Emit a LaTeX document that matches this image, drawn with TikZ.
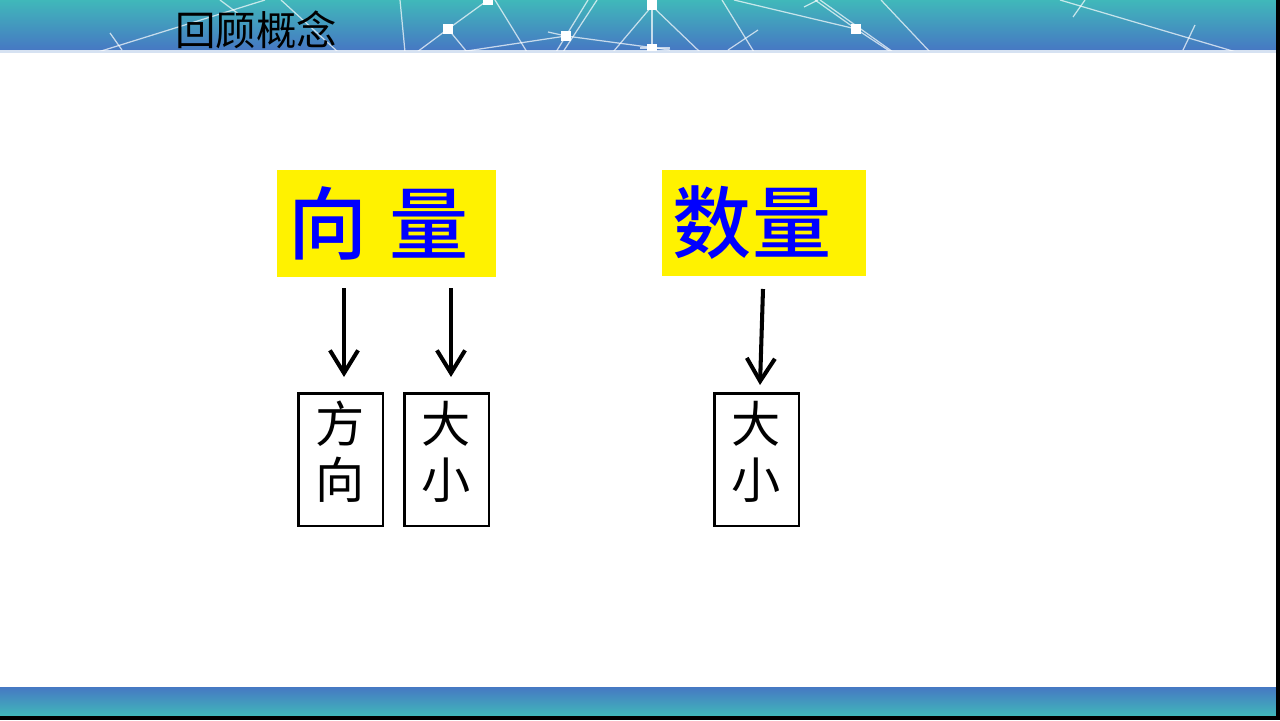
\documentclass[tikz,border=0pt]{standalone}
\usepackage{fontspec}
\newfontfamily\cjk{Noto Sans CJK SC}
\newfontfamily\cjkbold{Noto Sans CJK SC Medium}
\usetikzlibrary{arrows.meta}
\definecolor{hdrtop}{RGB}{64,184,186}
\definecolor{hdrbot}{RGB}{70,120,195}
\definecolor{hdrline}{RGB}{214,226,242}
\definecolor{vblue}{RGB}{0,0,255}
\tikzset{
  net/.style={white, opacity=0.7, line width=0.7pt},
  netnode/.style={fill=white, draw=none, minimum size=0.2cm, inner sep=0pt, rectangle},
  yellowbox/.style={fill=yellow, draw=none, inner sep=0pt},
  bigtxt/.style={text=vblue, inner sep=0pt, font=\cjkbold\fontsize{45pt}{50pt}\selectfont},
  smallbox/.style={draw=black, line width=1.7pt, minimum width=1.7cm, minimum height=2.66cm,
    inner sep=0pt, align=center, text depth=11pt, font=\cjk\fontsize{28pt}{32pt}\selectfont},
  arr/.style={draw=black, line width=2.3pt, -{Straight Barb[length=13pt,width=16pt]}}
}
\begin{document}
\begin{tikzpicture}[x=0.02cm,y=-0.02cm]
\useasboundingbox (0,0) rectangle (1280,720);
\fill[white] (0,0) rectangle (1280,720);
% header band
\shade[top color=hdrtop, bottom color=hdrbot] (0,0) rectangle (1276,50);
\fill[hdrline] (0,50) rectangle (1276,53);
\begin{scope}
\clip (0,0) rectangle (1276,50);
\draw[net] (98,52) -- (265,0);
\draw[net] (110,33) -- (122,50);
\draw[net] (220,0) -- (240,15);
\draw[net] (281,0) -- (338,52);
\draw[net] (400,0) -- (405,52);
\draw[net] (417,52) -- (448,29) -- (488,0);
\draw[net] (448,29) -- (467,52);
\draw[net] (495,0) -- (527,52);
\draw[net] (460,52) -- (566,36) -- (670,50);
\draw[net] (548,32) -- (566,36);
\draw[net] (588,0) -- (556,52);
\draw[net] (597,0) -- (563,52);
\draw[net] (613,52) -- (652,6) -- (700,52);
\draw[net] (652,6) -- (652,49);
\draw[net] (640,48) -- (670,48);
\draw[net] (722,0) -- (754,52);
\draw[net] (728,50) -- (758,30);
\draw[net] (734,0) -- (856,29) -- (891,52);
\draw[net] (804,7) -- (818,0);
\draw[net] (815,0) -- (856,29);
\draw[net] (820,0) -- (893,52);
\draw[net] (881,0) -- (930,52);
\draw[net] (1060,0) -- (1236,52);
\draw[net] (1073,17) -- (1085,0);
\draw[net] (1183,50) -- (1195,25);
\node[netnode] (n1) at (448,29) {};
\node[netnode] (n2) at (488,0) {};
\node[netnode] (n3) at (566,36) {};
\node[netnode] (n4) at (652,5) {};
\node[netnode] (n5) at (652,49) {};
\node[netnode] (n6) at (856,29) {};
\end{scope}
\node[anchor=center, inner sep=0pt, font=\cjk\fontsize{23pt}{26pt}\selectfont] (title) at (256,30) {回顾概念};
% footer band
\shade[top color=hdrbot, bottom color=hdrtop] (0,687) rectangle (1276,716);
\fill[black] (1276,0) rectangle (1280,720);
\fill[black] (0,716) rectangle (1280,720);
% yellow boxes
\node[yellowbox, minimum width=4.38cm, minimum height=2.14cm] (vec) at (386.5,223.5) {};
\node[bigtxt] (vectxt) at (378.5,223) {向\hspace{13pt}量};
\node[yellowbox, minimum width=4.08cm, minimum height=2.12cm] (sca) at (764,223) {};
\node[bigtxt] (scatxt) at (752,223) {数量};
% small boxes
\node[smallbox] (dir) at (340.5,459.5) {方\\向};
\node[smallbox] (mag) at (446.5,459.5) {大\\小};
\node[smallbox] (smag) at (756.5,459.5) {大\\小};
% arrows
\coordinate (a1s) at (344,288);
\coordinate (a1e) at (344,377);
\coordinate (a2s) at (451,288);
\coordinate (a2e) at (451,377);
\coordinate (a3s) at (763,289);
\coordinate (a3e) at (760,385);
\draw[arr] (a1s) -- (a1e);
\draw[arr] (a2s) -- (a2e);
\draw[arr] (a3s) -- (a3e);
\end{tikzpicture}
\end{document}
